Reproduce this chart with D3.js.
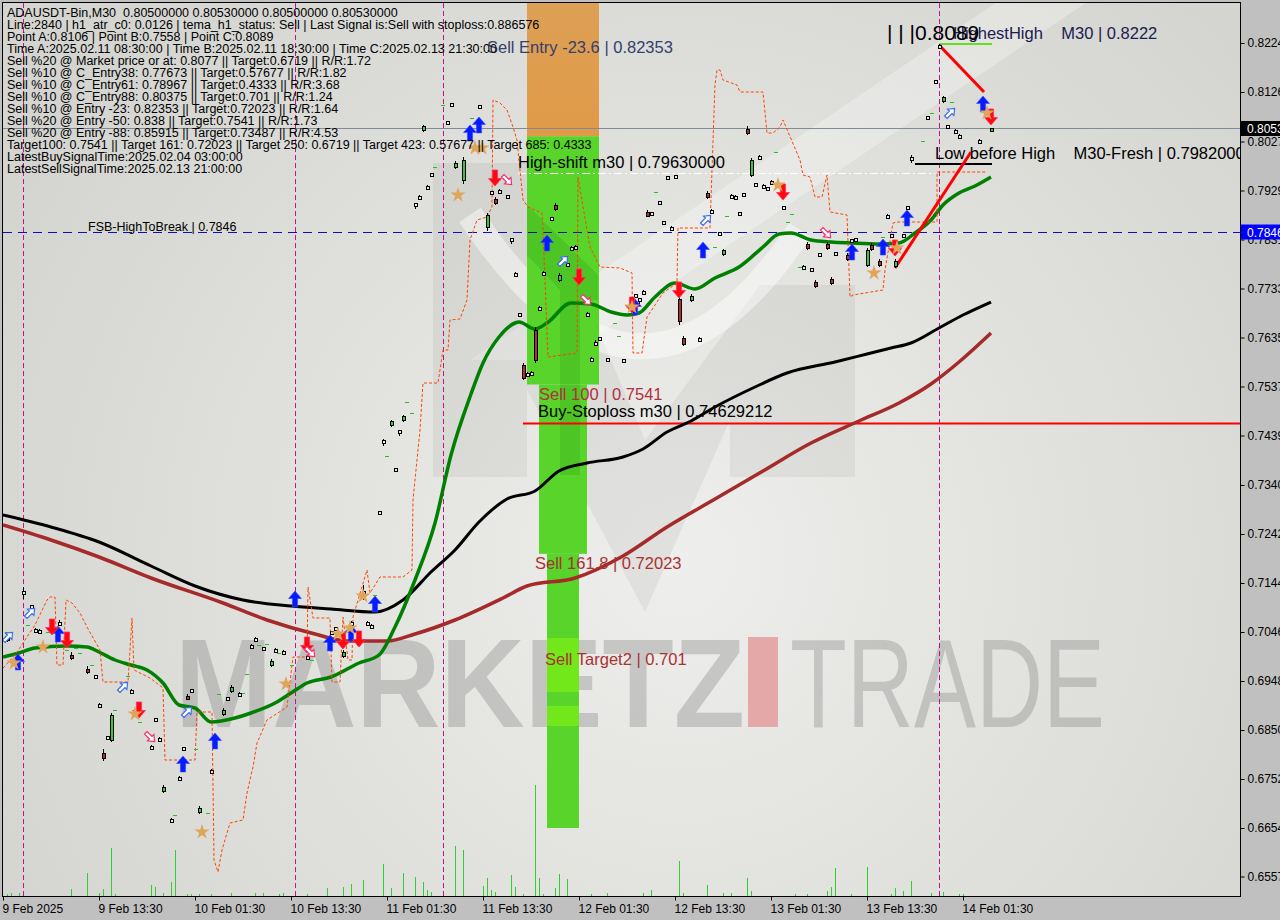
<!DOCTYPE html>
<html><head><meta charset="utf-8">
<script src="https://cdn.jsdelivr.net/npm/d3@7"></script>
<style>
body{margin:0;background:#c0c0c0;overflow:hidden}
svg{display:block}
text{white-space:pre}
</style>
</head><body>
<svg id="c" width="1280" height="920"></svg>
<script>
// ---------------- DATA ----------------
const xTickIdx = [0,24,48,72,96,120,144,168,192,216,240];
const xTickLabels = ["9 Feb 2025","9 Feb 13:30","10 Feb 01:30","10 Feb 13:30","11 Feb 01:30","11 Feb 13:30","12 Feb 01:30","12 Feb 13:30","13 Feb 01:30","13 Feb 13:30","14 Feb 01:30"];
const yTicks = [0.8224,0.8126,0.8027,0.7929,0.7831,0.7733,0.7635,0.7537,0.7439,0.7340,0.7242,0.7144,0.7046,0.6948,0.6850,0.6752,0.6654,0.6557];

const infoLines = [
 "ADAUSDT-Bin,M30  0.80500000 0.80530000 0.80500000 0.80530000",
 "Line:2840 | h1_atr_c0: 0.0126 | tema_h1_status: Sell | Last Signal is:Sell with stoploss:0.886576",
 "Point A:0.8106 | Point B:0.7558 | Point C:0.8089",
 "Time A:2025.02.11 08:30:00 | Time B:2025.02.11 18:30:00 | Time C:2025.02.13 21:30:00",
 "Sell %20 @ Market price or at: 0.8077 || Target:0.6719 || R/R:1.72",
 "Sell %10 @ C_Entry38: 0.77673 || Target:0.57677 || R/R:1.82",
 "Sell %10 @ C_Entry61: 0.78967 || Target:0.4333 || R/R:3.68",
 "Sell %10 @ C_Entry88: 0.80375 || Target:0.701 || R/R:1.24",
 "Sell %10 @ Entry -23: 0.82353 || Target:0.72023 || R/R:1.64",
 "Sell %20 @ Entry -50: 0.838 || Target:0.7541 || R/R:1.73",
 "Sell %20 @ Entry -88: 0.85915 || Target:0.73487 || R/R:4.53",
 "Target100: 0.7541 || Target 161: 0.72023 || Target 250: 0.6719 || Target 423: 0.57677 || Target 685: 0.4333",
 "LatestBuySignalTime:2025.02.04 03:00:00",
 "LatestSellSignalTime:2025.02.13 21:00:00"
];

// candles: [barIndex, open, high, low, close]
const candles = [
[1,0.7038,0.7042,0.7026,0.7030],[5,0.7124,0.7136,0.7112,0.7124],[7,0.7098,0.7100,0.7096,0.7098],
[8,0.7050,0.7054,0.7046,0.7050],[9,0.7048,0.7052,0.7044,0.7048],[14,0.7064,0.7070,0.7058,0.7064],
[17,0.7001,0.7006,0.6990,0.6995],[21,0.6973,0.6978,0.6962,0.6967],[23,0.6958,0.6960,0.6956,0.6958],
[24,0.6900,0.6904,0.6896,0.6900],[25,0.6805,0.6812,0.6788,0.6795],[26,0.6836,0.6838,0.6834,0.6836],
[27,0.6830,0.6884,0.6826,0.6880],[32,0.6928,0.6932,0.6924,0.6928],[37,0.6816,0.6820,0.6810,0.6816],
[38,0.6870,0.6874,0.6866,0.6870],[39,0.6832,0.6836,0.6828,0.6832],[40,0.6728,0.6740,0.6724,0.6736],
[42,0.6670,0.6674,0.6664,0.6670],[44,0.6754,0.6758,0.6748,0.6754],[45,0.6814,0.6816,0.6812,0.6814],
[46,0.6919,0.6922,0.6910,0.6913],[47,0.6930,0.6932,0.6928,0.6930],[49,0.6686,0.6698,0.6682,0.6694],
[52,0.6768,0.6772,0.6764,0.6768],[55,0.6882,0.6894,0.6878,0.6890],[56,0.6912,0.6914,0.6910,0.6912],
[57,0.6928,0.6940,0.6924,0.6936],[59,0.6922,0.6926,0.6918,0.6922],[62,0.7018,0.7022,0.7014,0.7018],
[63,0.7032,0.7036,0.7028,0.7032],[65,0.7012,0.7016,0.7008,0.7012],[67,0.6980,0.6992,0.6976,0.6988],
[68,0.7010,0.7014,0.7006,0.7010],[70,0.7006,0.7010,0.7002,0.7006],[76,0.6996,0.7000,0.6992,0.6996],
[82,0.7044,0.7048,0.7040,0.7044],[83,0.7052,0.7056,0.7048,0.7052],[85,0.6998,0.7010,0.6994,0.7006],
[87,0.7064,0.7068,0.7060,0.7064],[90,0.7126,0.7140,0.7110,0.7126],[91,0.7064,0.7068,0.7060,0.7064],
[92,0.7058,0.7062,0.7054,0.7058],[94,0.7286,0.7288,0.7284,0.7286],[95,0.7426,0.7432,0.7418,0.7426],
[97,0.7460,0.7470,0.7456,0.7468],[98,0.7372,0.7374,0.7370,0.7372],[99,0.7446,0.7450,0.7438,0.7446],
[100,0.7470,0.7480,0.7466,0.7478],[103,0.7900,0.7904,0.7892,0.7900],[104,0.7916,0.7920,0.7912,0.7916],
[105,0.8050,0.8060,0.8046,0.8058],[106,0.7936,0.7940,0.7932,0.7936],[107,0.7960,0.7964,0.7956,0.7960],
[111,0.8064,0.8068,0.8060,0.8064],[112,0.8100,0.8104,0.8096,0.8100],[113,0.7976,0.7988,0.7972,0.7984],
[115,0.7950,0.7996,0.7942,0.7990],[119,0.8096,0.8100,0.8092,0.8096],[121,0.7856,0.7884,0.7848,0.7880],
[122,0.7924,0.7928,0.7920,0.7924],[123,0.7912,0.7916,0.7900,0.7904],[124,0.7928,0.7932,0.7924,0.7928],
[126,0.7918,0.7920,0.7916,0.7918],[127,0.7830,0.7834,0.7822,0.7830],[128,0.7762,0.7766,0.7758,0.7762],
[129,0.7680,0.7684,0.7676,0.7680],[130,0.7562,0.7566,0.7558,0.7562],[130,0.7580,0.7584,0.7550,0.7554],
[131,0.7562,0.7566,0.7558,0.7562],[132,0.7564,0.7568,0.7560,0.7564],[133,0.7650,0.7656,0.7584,0.7590],
[134,0.7694,0.7698,0.7688,0.7694],[135,0.7764,0.7768,0.7760,0.7764],[137,0.7872,0.7876,0.7868,0.7872],
[138,0.7900,0.7904,0.7888,0.7892],[139,0.7750,0.7764,0.7746,0.7760],[141,0.7780,0.7784,0.7776,0.7780],
[142,0.7814,0.7818,0.7810,0.7814],[143,0.7816,0.7820,0.7812,0.7816],[146,0.7682,0.7686,0.7678,0.7682],
[147,0.7592,0.7596,0.7588,0.7592],[148,0.7624,0.7630,0.7620,0.7624],[149,0.7634,0.7636,0.7632,0.7634],
[151,0.7590,0.7592,0.7588,0.7590],[155,0.7588,0.7590,0.7586,0.7588],[158,0.7718,0.7722,0.7714,0.7718],
[159,0.7710,0.7714,0.7702,0.7710],[160,0.7726,0.7730,0.7722,0.7726],[161,0.7886,0.7890,0.7876,0.7878],
[162,0.7882,0.7886,0.7878,0.7882],[164,0.7904,0.7906,0.7902,0.7904],[165,0.7864,0.7868,0.7860,0.7864],
[166,0.7954,0.7956,0.7952,0.7954],[167,0.7854,0.7858,0.7850,0.7854],[168,0.7958,0.7960,0.7956,0.7958],
[169,0.7712,0.7718,0.7660,0.7668],[170,0.7634,0.7638,0.7618,0.7622],[172,0.7710,0.7722,0.7706,0.7718],
[174,0.7630,0.7636,0.7626,0.7630],[176,0.7924,0.7928,0.7912,0.7916],[177,0.7888,0.7892,0.7884,0.7888],
[179,0.7842,0.7846,0.7838,0.7842],[180,0.7802,0.7812,0.7798,0.7810],[182,0.7918,0.7922,0.7914,0.7918],
[183,0.7916,0.7920,0.7912,0.7916],[184,0.7882,0.7886,0.7878,0.7882],[185,0.7920,0.7924,0.7916,0.7920],
[186,0.8052,0.8058,0.8040,0.8044],[187,0.7960,0.7994,0.7956,0.7990],[188,0.7940,0.7944,0.7936,0.7940],
[189,0.7996,0.8000,0.7992,0.7996],[190,0.7938,0.7942,0.7934,0.7938],[191,0.7932,0.7936,0.7928,0.7932],
[192,0.7946,0.7950,0.7942,0.7946],[195,0.7896,0.7898,0.7894,0.7896],[200,0.7776,0.7780,0.7772,0.7776],
[201,0.7822,0.7826,0.7810,0.7814],[202,0.7770,0.7774,0.7766,0.7770],[203,0.7746,0.7750,0.7734,0.7738],
[204,0.7800,0.7804,0.7796,0.7800],[206,0.7822,0.7826,0.7810,0.7814],[207,0.7752,0.7756,0.7740,0.7744],
[208,0.7802,0.7806,0.7798,0.7802],[211,0.7800,0.7804,0.7788,0.7792],[212,0.7828,0.7832,0.7824,0.7828],
[213,0.7830,0.7834,0.7826,0.7830],[216,0.7780,0.7814,0.7776,0.7810],[217,0.7820,0.7824,0.7808,0.7812],
[219,0.7788,0.7792,0.7776,0.7780],[221,0.7878,0.7882,0.7874,0.7878],[222,0.7838,0.7842,0.7836,0.7838],
[223,0.7778,0.7792,0.7774,0.7788],[225,0.7838,0.7842,0.7834,0.7838],[226,0.7894,0.7898,0.7890,0.7894],
[227,0.7992,0.8000,0.7984,0.7992],[231,0.8074,0.8078,0.8070,0.8074],[233,0.8146,0.8148,0.8144,0.8146],
[234,0.8216,0.8222,0.8212,0.8216],[235,0.8108,0.8118,0.8104,0.8116],[236,0.8056,0.8060,0.8052,0.8056],
[238,0.8048,0.8052,0.8044,0.8048],[239,0.8038,0.8042,0.8034,0.8038],[244,0.8028,0.8032,0.8024,0.8028],
[247,0.8050,0.8053,0.8050,0.8053]
];

// moving averages: [barIndex, price]
const blackMA = [[0,0.7280],[12,0.7256],[24,0.7226],[37,0.7178],[48,0.7138],[60,0.7110],[72,0.7098],[82,0.7092],[93,0.7086],[100,0.7110],[107,0.7166],[113,0.7210],[119,0.7266],[126,0.7312],[133,0.7328],[139,0.7368],[146,0.7384],[155,0.7396],[160,0.7412],[166,0.7446],[172,0.7468],[178,0.7496],[188,0.7536],[196,0.7564],[208,0.7586],[216,0.7602],[222,0.7614],[227,0.7624],[234,0.7654],[240,0.7680],[247,0.7706]];
const brownMA = [[0,0.7260],[12,0.7230],[24,0.7196],[37,0.7154],[55,0.7104],[66,0.7070],[78,0.7042],[86,0.7028],[96,0.7028],[103,0.7042],[113,0.7070],[125,0.7114],[131,0.7138],[143,0.7154],[155,0.7198],[166,0.7256],[178,0.7312],[190,0.7368],[202,0.7424],[214,0.7468],[224,0.7504],[232,0.7542],[239,0.7586],[247,0.7644]];
const greenMA = [[0,0.6996],[4,0.7004],[8,0.7014],[16,0.7018],[21,0.7016],[24,0.7006],[28,0.6990],[32,0.6980],[36,0.6970],[40,0.6944],[44,0.6900],[48,0.6894],[52,0.6866],[58,0.6874],[62,0.6884],[68,0.6904],[72,0.6924],[76,0.6944],[82,0.6956],[89,0.6984],[94,0.7000],[98,0.7056],[103,0.7150],[108,0.7264],[112,0.7400],[117,0.7522],[120,0.7584],[124,0.7636],[128,0.7664],[129,0.7666],[133,0.7652],[136,0.7664],[142,0.7704],[147,0.7702],[152,0.7686],[156,0.7680],[159,0.7684],[163,0.7716],[168,0.7744],[173,0.7732],[178,0.7754],[184,0.7776],[190,0.7816],[194,0.7842],[197,0.7844],[202,0.7830],[207,0.7826],[212,0.7824],[219,0.7822],[224,0.7824],[228,0.7844],[232,0.7870],[235,0.7900],[239,0.7924],[243,0.7938],[247,0.7956]];
// dashed trailing stop line
const stopLine = [[0,0.6974],[3,0.7000],[5.5,0.7030],[8,0.7060],[11,0.7110],[11.75,0.7116],[13,0.7116],[13.5,0.6980],[15,0.6980],[15.75,0.7110],[17.25,0.7104],[19.25,0.7084],[21,0.7056],[24.25,0.7010],[25,0.6946],[31.25,0.6946],[32.25,0.7074],[32.75,0.6970],[36.75,0.6954],[40,0.6934],[40.5,0.6790],[48,0.6790],[48.5,0.6886],[52.25,0.6886],[52.75,0.6590],[53.75,0.6566],[54.75,0.6610],[56.75,0.6664],[60,0.6670],[61,0.6724],[62.5,0.6776],[63.5,0.6824],[66,0.6870],[71,0.6896],[72.5,0.6996],[76,0.6996],[76.25,0.7136],[77.5,0.7074],[81.75,0.7074],[82.25,0.6946],[84.25,0.6946],[85,0.7076],[86.25,0.6990],[87.25,0.6990],[87.5,0.7076],[91,0.7170],[91.75,0.7124],[94.25,0.7156],[100,0.7156],[102.25,0.7170],[102.5,0.7310],[104.25,0.7450],[105,0.7544],[108.75,0.7544],[110,0.7610],[111.25,0.7610],[111.75,0.7670],[114.25,0.7672],[116,0.7710],[116.75,0.7830],[118.5,0.7870],[121,0.7876],[122.25,0.7896],[122.5,0.8110],[124.25,0.8104],[126,0.8090],[127.5,0.8056],[128.5,0.8030],[130,0.7910],[131.25,0.7896],[134.75,0.7884],[135,0.7850],[136.25,0.7596],[143.5,0.7604],[143.75,0.7956],[146,0.7850],[146.75,0.7816],[149.25,0.7776],[154.25,0.7774],[157.25,0.7764],[157.5,0.7604],[159.75,0.7604],[161,0.7676],[165,0.7724],[168.5,0.7744],[168.75,0.7854],[176.75,0.7854],[177.25,0.7970],[178,0.8140],[178.5,0.8170],[179.25,0.8170],[180,0.8150],[183.5,0.8140],[184.25,0.8126],[190,0.8126],[191,0.8044],[192.5,0.8044],[194.25,0.8056],[195,0.8070],[199.25,0.7990],[200,0.7960],[201.75,0.7956],[203,0.7916],[204.75,0.7916],[206,0.7960],[206.75,0.7886],[211,0.7880],[211.75,0.7716],[212.5,0.7720],[220,0.7730],[220.5,0.7770],[222.5,0.7864],[223.5,0.7866],[233.5,0.7866],[233.5,0.7966],[246,0.7966]];

// volumes: [barIndex, volume]
const volumes = [[1,2],[2,3],[4,3],[5,3],[17,7],[21,23],[24,3],[25,7],[27,48],[28,2],[37,11],[38,9],[40,3],[42,14],[43,46],[46,2],[47,2],[49,2],[52,2],[57,3],[63,3],[65,3],[69,2],[70,3],[76,2],[81,8],[85,9],[87,12],[90,16],[95,32],[97,8],[100,23],[103,19],[105,14],[106,6],[107,4],[113,50],[115,46],[120,10],[121,18],[122,6],[123,4],[127,21],[128,9],[130,2],[133,111],[134,18],[135,2],[138,8],[139,22],[141,17],[147,2],[151,3],[160,3],[162,6],[169,35],[170,3],[176,11],[180,3],[182,3],[186,18],[187,5],[198,2],[201,2],[206,5],[207,9],[208,28],[212,2],[216,29],[222,2],[223,8],[225,5],[227,15],[232,3],[235,4],[239,2],[240,2]];

// signal markers: [barIndex, price]
const buyArrows = [[3.75,0.6986],[13.75,0.7042],[45,0.6782],[53,0.6828],[73,0.7112],[81.75,0.7024],[87,0.7044],[93,0.7102],[116.75,0.8044],[119,0.8060],[136,0.7824],[158,0.7696],[175,0.7810],[212.25,0.7806],[220,0.7816],[226,0.7874],[245,0.8102]];
const sellArrows = [[12.25,0.7056],[16,0.7030],[34,0.6890],[76,0.7020],[85,0.7028],[89,0.7032],[123,0.7954],[144,0.7756],[169,0.7730],[195,0.7926],[223,0.7814],[247,0.8076],[157.25,0.7700]];
const hollowBuy = [[1.25,0.7036],[6.75,0.7084],[30,0.6936],[46,0.6886],[140,0.7788],[175.75,0.7870],[236.75,0.8084]];
const hollowSell = [[36.75,0.6836],[76.75,0.7006],[126,0.7950],[145.75,0.7710],[205.75,0.7844]];
const stars = [[2.75,0.6984],[10,0.7016],[33,0.6882],[49.75,0.6646],[70.75,0.6942],[83.75,0.7042],[90,0.7118],[113.75,0.7920],[118,0.8014],[119.75,0.8014],[157.25,0.7696],[193.75,0.7940],[217.75,0.7764],[223.5,0.7814],[246,0.8084],[86.75,0.7054]];
const greenTicks = [[1,0.7046],[6.25,0.7060],[11.25,0.7046],[16,0.7010],[18.25,0.7014],[19.25,0.7004],[22.25,0.6980],[28,0.6890],[31.25,0.6958],[34.25,0.6866],[43,0.6680],[48.25,0.6812],[51.25,0.6684],[54,0.6922],[60,0.6924],[61,0.6962],[64,0.7020],[66,0.7022],[69,0.7004],[72.25,0.6980],[77.25,0.6990],[85,0.7046],[89,0.7020],[93,0.7120],[110,0.8100],[117.25,0.8074],[108,0.7976],[101,0.7506],[102.25,0.7484],[96,0.7398],[163.25,0.7926],[153,0.7664],[154,0.7638],[178,0.7816],[181,0.7878],[193.25,0.8006],[197.25,0.7882],[196.25,0.7866],[199.25,0.7776],[220,0.7836],[230,0.8028],[232.25,0.8084],[237.25,0.8106]];

// trade zone bands: [startBar, endBar, topPrice, bottomPrice, kind]
const bands = [
 [131,149,0.8400,0.80375,"entry"],
 [131,149,0.80375,0.7541,"target"],
 [134,146,0.7541,0.72023,"target"],
 [136,144,0.72023,0.6654,"target"],
 [136,144,0.7034,0.6926,"lime"],
 [136,144,0.6898,0.6858,"lime"]
];

// key levels
const currentPrice = 0.8053, fsbHigh = 0.7846, buyStop = 0.74629212, highShift = 0.7963;
const highestHigh = 0.8222, lowBeforeHigh = 0.7982, sellEntry = 0.82353, sell100 = 0.7541, sell161 = 0.72023, target2 = 0.701;
const pointC = 0.8089;
// zigzag legs: [[bar,price],[bar,price]]
const legUp = [[223,0.7774],[242,0.8006]];
const legDown = [[234,0.8220],[245.25,0.8126]];
const separators = [5,73,110,234];

// ---------------- DRAW ----------------
const W = 1280, H = 920, PL = 3, PT = 3, PR = 1240, PB = 896;
const svg = d3.select("#c");
const x = d3.scaleLinear().domain([-0.75, 309.25]).range([0, 1240]);
const y = d3.scaleLinear().domain([0.8310, 0.6518]).range([0, 896]);
const vy = d3.scaleLinear().domain([0, 100]).range([PB, PB - 100]);
const FONT = "'Liberation Sans', Arial, sans-serif";

const defs = svg.append("defs");
const rg = defs.append("radialGradient").attr("id","bg").attr("gradientUnits","userSpaceOnUse")
  .attr("cx",680).attr("cy",560).attr("r",760);
rg.append("stop").attr("offset","0").attr("stop-color","#eeeeec");
rg.append("stop").attr("offset","1").attr("stop-color","#d4d4d0");
defs.append("clipPath").attr("id","clip").append("rect").attr("x",PL).attr("y",PT).attr("width",PR-PL).attr("height",PB-PT);
const og = defs.append("linearGradient").attr("id","og").attr("x1",0).attr("y1",0).attr("x2",0).attr("y2",1);
og.append("stop").attr("offset","0").attr("stop-color","#dca25a");
og.append("stop").attr("offset","1").attr("stop-color","#e09a48");

svg.append("rect").attr("width",W).attr("height",H).attr("fill","#c0c0c0");
svg.append("rect").attr("x",PL).attr("y",PT).attr("width",PR-PL).attr("height",PB-PT).attr("fill","url(#bg)");

const plot = svg.append("g").attr("clip-path","url(#clip)");

// watermark logo (background)
const wm = plot.append("g");
wm.append("path").attr("d","M1000,0 L1090,0 L560,360 L470,360 Z").attr("fill","rgba(255,255,255,0.28)");
wm.append("path").attr("d","M433,163 L527,163 L645,440 L760,285 L855,285 L855,477 L730,477 L730,420 L645,612 L527,390 L527,477 L433,477 Z").attr("fill","rgba(0,0,0,0.05)");
wm.append("path").attr("d","M470,215 Q640,470 800,230").attr("fill","none").attr("stroke","rgba(255,255,255,0.45)").attr("stroke-width",26);
wm.append("text").attr("x",175).attr("y",727).attr("font-family",FONT).attr("font-weight","bold")
  .attr("font-size",126).attr("textLength",570).attr("lengthAdjust","spacingAndGlyphs")
  .attr("fill","rgba(120,120,120,0.32)").text("MARKETZ");
wm.append("rect").attr("x",748).attr("y",637).attr("width",30).attr("height",90).attr("fill","#e4a8a8");
wm.append("text").attr("x",790).attr("y",727).attr("font-family",FONT).attr("font-weight","normal")
  .attr("font-size",126).attr("textLength",315).attr("lengthAdjust","spacingAndGlyphs")
  .attr("fill","rgba(120,120,120,0.32)").text("TRADE");

// bands
const bandColor = {entry:"url(#og)", target:"#58d42a", lime:"#72e81a"};
plot.append("g").selectAll("rect").data(bands).join("rect")
  .attr("x",d=>x(d[0])).attr("width",d=>x(d[1])-x(d[0]))
  .attr("y",d=>y(d[2])).attr("height",d=>y(d[3])-y(d[2]))
  .attr("fill",d=>bandColor[d[4]]);
// subtle darker logo shading over bands
plot.append("path").attr("d","M527,205 L598,275 L598,300 L580,300 L580,475 L560,475 L560,290 L527,255 Z").attr("fill","rgba(0,90,0,0.12)");

// volumes
plot.append("g").selectAll("line").data(volumes).join("line")
  .attr("x1",d=>Math.round(x(d[0]))+0.5).attr("x2",d=>Math.round(x(d[0]))+0.5)
  .attr("y1",PB).attr("y2",d=>vy(d[1])).attr("stroke","#32cd32").attr("stroke-width",1);

// separators
plot.append("g").selectAll("line").data(separators).join("line")
  .attr("x1",d=>Math.round(x(d))+0.5).attr("x2",d=>Math.round(x(d))+0.5).attr("y1",PT).attr("y2",PB)
  .attr("stroke","#c0148c").attr("stroke-dasharray","5,3").attr("stroke-width",1);

// horizontal levels
plot.append("line").attr("x1",PL).attr("x2",PR).attr("y1",Math.round(y(currentPrice))+0.5).attr("y2",Math.round(y(currentPrice))+0.5)
  .attr("stroke","#7f8c98").attr("stroke-width",1);
plot.append("line").attr("x1",PL).attr("x2",PR).attr("y1",Math.round(y(fsbHigh))+0.5).attr("y2",Math.round(y(fsbHigh))+0.5)
  .attr("stroke","#1010b0").attr("stroke-dasharray","9,6").attr("stroke-width",1);
plot.append("line").attr("x1",x(130)).attr("x2",PR).attr("y1",y(buyStop)).attr("y2",y(buyStop))
  .attr("stroke","#ff0000").attr("stroke-width",2);
plot.append("line").attr("x1",x(128.75)).attr("x2",x(233)).attr("y1",Math.round(y(highShift))+0.5).attr("y2",Math.round(y(highShift))+0.5)
  .attr("stroke","#ffffff").attr("stroke-dasharray","8,3,2,3").attr("stroke-width",1.2);
plot.append("line").attr("x1",x(234)).attr("x2",x(247.25)).attr("y1",y(highestHigh)).attr("y2",y(highestHigh))
  .attr("stroke","#66dd22").attr("stroke-width",2);
plot.append("line").attr("x1",x(228)).attr("x2",x(247.25)).attr("y1",y(lowBeforeHigh)).attr("y2",y(lowBeforeHigh))
  .attr("stroke","#000").attr("stroke-width",2);

// moving averages
const line = d3.line().x(d=>x(d[0])).y(d=>y(d[1])).curve(d3.curveMonotoneX);
plot.append("path").datum(brownMA).attr("d",line).attr("fill","none").attr("stroke","#a52a2a").attr("stroke-width",3.5);
plot.append("path").datum(blackMA).attr("d",line).attr("fill","none").attr("stroke","#000").attr("stroke-width",3);
plot.append("path").datum(greenMA).attr("d",line).attr("fill","none").attr("stroke","#008000").attr("stroke-width",3.5);

// stop line
plot.append("path").datum(stopLine).attr("d",d3.line().x(d=>x(d[0])).y(d=>y(d[1])))
  .attr("fill","none").attr("stroke","#ff4500").attr("stroke-width",1).attr("stroke-dasharray","3,2");

// zigzag legs
const lin = d3.line().x(d=>x(d[0])).y(d=>y(d[1]));
plot.append("path").datum(legUp).attr("d",lin).attr("stroke","#ff0000").attr("stroke-width",3).attr("fill","none");
plot.append("path").datum(legDown).attr("d",lin).attr("stroke","#ff0000").attr("stroke-width",3).attr("fill","none");

// green ticks
plot.append("g").selectAll("line").data(greenTicks).join("line")
  .attr("x1",d=>x(d[0])-2).attr("x2",d=>x(d[0])+2).attr("y1",d=>Math.round(y(d[1]))+0.5).attr("y2",d=>Math.round(y(d[1]))+0.5)
  .attr("stroke","#22c022").attr("stroke-width",1);

// candles
const gC = plot.append("g").attr("shape-rendering","crispEdges");
candles.forEach(d=>{
  const [i,o,h,l,c] = d;
  const cx = Math.round(x(i)) + 0.5;
  gC.append("line").attr("x1",cx).attr("x2",cx).attr("y1",y(h)).attr("y2",y(l)).attr("stroke","#000");
  const t = y(Math.max(o,c)), b = y(Math.min(o,c));
  const hh = Math.max(b-t, 3);
  gC.append("rect").attr("x",cx-1.5).attr("y",Math.round((t+b)/2-hh/2)+0.5).attr("width",3).attr("height",Math.round(hh))
    .attr("fill", c>o ? "#3cc83c" : (c<o ? "#b03030" : "#e8e8e8")).attr("stroke","#000").attr("stroke-width",1);
});

// markers
const upPath = "M0,-8 L6.5,-0.5 L2.6,-0.5 L2.6,8 L-2.6,8 L-2.6,-0.5 L-6.5,-0.5 Z";
const smallUp = "M0,-6.5 L4.5,-1 L1.8,-1 L1.8,6 L-1.8,6 L-1.8,-1 L-4.5,-1 Z";
plot.append("g").selectAll("path").data(buyArrows).join("path")
  .attr("d",upPath).attr("transform",d=>`translate(${x(d[0])},${y(d[1])})`)
  .attr("fill","#0a1aff").attr("stroke","#3050ff").attr("stroke-width",0.6);
plot.append("g").selectAll("path").data(sellArrows).join("path")
  .attr("d",upPath).attr("transform",d=>`translate(${x(d[0])},${y(d[1])}) rotate(180)`)
  .attr("fill","#ff0a0a").attr("stroke","#ff3070").attr("stroke-width",0.8);
plot.append("g").selectAll("path").data(hollowBuy).join("path")
  .attr("d",smallUp).attr("transform",d=>`translate(${x(d[0])},${y(d[1])}) rotate(45)`)
  .attr("fill","#ffffff").attr("stroke","#3a6cf0").attr("stroke-width",1.2);
plot.append("g").selectAll("path").data(hollowSell).join("path")
  .attr("d",smallUp).attr("transform",d=>`translate(${x(d[0])},${y(d[1])}) rotate(135)`)
  .attr("fill","#ffffff").attr("stroke","#f03070").attr("stroke-width",1.2);
plot.append("g").selectAll("path").data(stars).join("path")
  .attr("d",d3.symbol(d3.symbolStar,70)).attr("transform",d=>`translate(${x(d[0])},${y(d[1])})`)
  .attr("fill","#dfa55a");

// level labels
function lab(txt, bar, price, dy, size, color){
  plot.append("text").attr("x",x(bar)).attr("y",y(price)+dy).attr("font-family",FONT)
    .attr("font-size",size).attr("fill",color).text(txt);
}
lab("Sell Entry -23.6 | 0.82353", 121, sellEntry, 16, 16.5, "#34406e");
lab("High-shift m30 | 0.79630000", 128.75, highShift, -5.5, 16.5, "#000");
lab("Sell 100 | 0.7541", 134, sell100, 15.5, 16.5, "#b03040");
lab("Buy-Stoploss m30 | 0.74629212", 133.75, buyStop, -6.5, 16.5, "#000");
lab("Sell 161.8 | 0.72023", 133, sell161, 15, 16.5, "#a83232");
lab("Sell Target2 | 0.701", 135.5, target2, 15, 16.5, "#a83232");
lab("FSB-HighToBreak | 0.7846", 21.25, fsbHigh, -1, 12.5, "#000");
lab("HighestHigh    M30 | 0.8222", 237.5, highestHigh, -5, 16.5, "#1a2050");
lab("| | |0.8089", 221, highestHigh, -4, 21, "#000");
lab("Low before High    M30-Fresh | 0.79820000", 233, lowBeforeHigh, -5, 16.5, "#000");

// info block
svg.append("g").selectAll("text").data(infoLines).join("text")
  .attr("x",7).attr("y",(d,i)=>17+12*i).attr("font-family",FONT).attr("font-size",12.5).attr("fill","#000").text(d=>d);

// plot border
svg.append("rect").attr("x",PL-0.5).attr("y",PT-0.5).attr("width",PR-PL+1).attr("height",PB-PT+1)
  .attr("fill","none").attr("stroke","#000").attr("stroke-width",1);

// y axis
const ya = svg.append("g").attr("transform",`translate(${PR+0.5},0)`)
  .call(d3.axisRight(y).tickValues(yTicks).tickSize(4).tickPadding(3).tickFormat(d=>d.toFixed(4)));
ya.select(".domain").remove();
ya.selectAll("text").attr("font-family",FONT).attr("font-size",12).attr("fill","#000");
ya.selectAll("line").attr("stroke","#000");

// price boxes
function pbox(p, bg, txt){
  const cy = y(p);
  svg.append("rect").attr("x",PR+1).attr("y",cy-7.5).attr("width",W-PR).attr("height",15).attr("fill",bg);
  svg.append("text").attr("x",PR+7).attr("y",cy+4.5).attr("font-family",FONT).attr("font-size",12).attr("fill","#fff").text(txt);
}
pbox(currentPrice, "#000", "0.80530");
pbox(fsbHigh, "#0000ff", "0.78460");

// x axis
const xa = svg.append("g").attr("transform",`translate(0,${PB+0.5})`)
  .call(d3.axisBottom(x).tickValues(xTickIdx).tickSize(4).tickPadding(4).tickFormat((d,i)=>xTickLabels[i]));
xa.select(".domain").remove();
xa.selectAll("text").attr("font-family",FONT).attr("font-size",12).attr("fill","#000").attr("text-anchor","start").attr("dx",-1);
xa.selectAll("line").attr("stroke","#000");
</script>
</body></html>
